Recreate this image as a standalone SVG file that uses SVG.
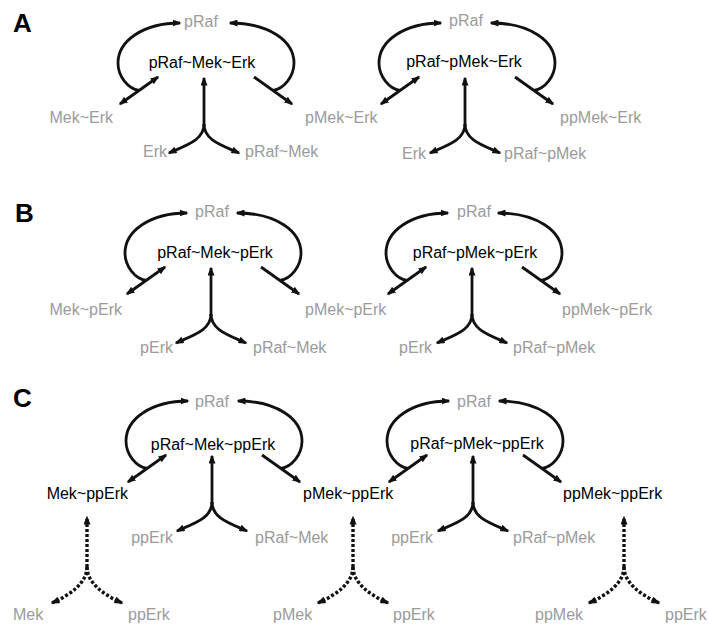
<svg xmlns="http://www.w3.org/2000/svg" width="709" height="624" viewBox="0 0 709 624">
  <defs>
    <style>
      .lbl { font-family: "Liberation Sans", Arial, sans-serif; font-size: 16px; }
      .dim { fill: #9b9b9b; }
      .key { fill: #000000; }
      .panel { font-family: "Liberation Sans", Arial, sans-serif; font-size: 26px; font-weight: bold; fill: #000000; }
      .mid { text-anchor: middle; }
      .end { text-anchor: end; }
      .ln { fill: none; stroke: #111111; stroke-width: 2.8; }
      .dot { fill: none; stroke: #111111; stroke-width: 3.4; stroke-dasharray: 3 2; }
      .one { marker-end: url(#ah); }
      .two { marker-start: url(#ah); marker-end: url(#ah); }
    </style>
    <marker id="ah" viewBox="0 0 9 7" refX="7.5" refY="3.5" markerWidth="9" markerHeight="7" markerUnits="userSpaceOnUse" orient="auto-start-reverse">
      <path d="M0,0 L9,3.5 L0,7 z" fill="#111111"/>
    </marker>
    <!-- complex-formation motif, origin at the tip of the upward stem -->
    <g id="motif">
      <path class="ln one" d="M-65,12.5 C-76,10.5 -86,-1.5 -86,-15 C-86,-37 -61,-55 -24,-55"/>
      <path class="ln one" d="M69,12.5 C80,10.5 90,-1.5 90,-15 C90,-37 65,-55 26,-55"/>
      <path class="ln two" d="M-84,26 L-46,-1"/>
      <path class="ln one" d="M50,-1 L88,26"/>
      <path class="ln one" d="M0,48 L0,0"/>
      <path class="ln one" d="M0,46 C0,62 -17,67 -35,75"/>
      <path class="ln one" d="M0,46 C0,62 17,67 35,75"/>
    </g>
    <!-- dissociation fork drawn dotted -->
    <g id="fork">
      <path class="dot one" d="M0,50 L0,0"/>
      <path class="dot one" d="M0,50 C0,66 -17,78 -35,86"/>
      <path class="dot one" d="M0,50 C0,66 17,78 35,86"/>
    </g>
  </defs>

  <rect width="709" height="624" fill="#ffffff"/>

  <!-- panel letters -->
  <g id="panel-labels">
    <text class="panel" x="13" y="32">A</text>
    <text class="panel" x="15" y="222">B</text>
    <text class="panel" x="13" y="407">C</text>
  </g>

  <g id="connectors">
    <use href="#motif" transform="translate(204,78)"/>
    <use href="#motif" transform="translate(465,78)"/>
    <use href="#motif" transform="translate(211,268)"/>
    <use href="#motif" transform="translate(472,268)"/>
    <use href="#motif" transform="translate(212,456)"/>
    <use href="#motif" transform="translate(473,456)"/>
    <use href="#fork" transform="translate(87,517)"/>
    <use href="#fork" transform="translate(353,517)"/>
    <use href="#fork" transform="translate(624,517)"/>
  </g>

  <!-- Panel A -->
  <g id="a-praf-1"><text class="lbl dim mid" x="201" y="27">pRaf</text></g>
  <g id="a-complex-1"><text class="lbl key mid" x="202" y="68">pRaf~Mek~Erk</text></g>
  <g id="a-mek-erk"><text class="lbl dim end" x="113" y="123">Mek~Erk</text></g>
  <g id="a-pmek-erk"><text class="lbl dim" x="305" y="123">pMek~Erk</text></g>
  <g id="a-erk-1"><text class="lbl dim end" x="167" y="157">Erk</text></g>
  <g id="a-praf-mek"><text class="lbl dim" x="245" y="157">pRaf~Mek</text></g>
  <g id="a-praf-2"><text class="lbl dim mid" x="466" y="26">pRaf</text></g>
  <g id="a-complex-2"><text class="lbl key mid" x="464" y="67">pRaf~pMek~Erk</text></g>
  <g id="a-ppmek-erk"><text class="lbl dim" x="560" y="123">ppMek~Erk</text></g>
  <g id="a-erk-2"><text class="lbl dim end" x="426" y="159">Erk</text></g>
  <g id="a-praf-pmek"><text class="lbl dim" x="504" y="159">pRaf~pMek</text></g>

  <!-- Panel B -->
  <g id="b-praf-1"><text class="lbl dim mid" x="212" y="217">pRaf</text></g>
  <g id="b-complex-1"><text class="lbl key mid" x="215" y="258">pRaf~Mek~pErk</text></g>
  <g id="b-mek-perk"><text class="lbl dim end" x="122" y="315">Mek~pErk</text></g>
  <g id="b-pmek-perk"><text class="lbl dim" x="305" y="315">pMek~pErk</text></g>
  <g id="b-perk-1"><text class="lbl dim end" x="173" y="353">pErk</text></g>
  <g id="b-praf-mek"><text class="lbl dim" x="253" y="353">pRaf~Mek</text></g>
  <g id="b-praf-2"><text class="lbl dim mid" x="474" y="217">pRaf</text></g>
  <g id="b-complex-2"><text class="lbl key mid" x="475" y="258">pRaf~pMek~pErk</text></g>
  <g id="b-ppmek-perk"><text class="lbl dim" x="562" y="315">ppMek~pErk</text></g>
  <g id="b-perk-2"><text class="lbl dim end" x="432" y="353">pErk</text></g>
  <g id="b-praf-pmek"><text class="lbl dim" x="513" y="353">pRaf~pMek</text></g>

  <!-- Panel C -->
  <g id="c-praf-1"><text class="lbl dim mid" x="212" y="407">pRaf</text></g>
  <g id="c-complex-1"><text class="lbl key mid" x="213" y="450">pRaf~Mek~ppErk</text></g>
  <g id="c-mek-pperk"><text class="lbl key end" x="128" y="499">Mek~ppErk</text></g>
  <g id="c-pmek-pperk"><text class="lbl key" x="303" y="499">pMek~ppErk</text></g>
  <g id="c-pperk-1"><text class="lbl dim end" x="173" y="543">ppErk</text></g>
  <g id="c-praf-mek"><text class="lbl dim" x="255" y="543">pRaf~Mek</text></g>
  <g id="c-praf-2"><text class="lbl dim mid" x="474" y="407">pRaf</text></g>
  <g id="c-complex-2"><text class="lbl key mid" x="477" y="449">pRaf~pMek~ppErk</text></g>
  <g id="c-ppmek-pperk"><text class="lbl key" x="563" y="499">ppMek~ppErk</text></g>
  <g id="c-pperk-2"><text class="lbl dim end" x="433" y="543">ppErk</text></g>
  <g id="c-praf-pmek"><text class="lbl dim" x="513" y="543">pRaf~pMek</text></g>
  <g id="c-mek"><text class="lbl dim" x="13" y="620">Mek</text></g>
  <g id="c-pperk-3"><text class="lbl dim" x="128" y="620">ppErk</text></g>
  <g id="c-pmek"><text class="lbl dim" x="273" y="620">pMek</text></g>
  <g id="c-pperk-4"><text class="lbl dim" x="393" y="620">ppErk</text></g>
  <g id="c-ppmek"><text class="lbl dim" x="535" y="620">ppMek</text></g>
  <g id="c-pperk-5"><text class="lbl dim" x="665" y="620">ppErk</text></g>
</svg>
